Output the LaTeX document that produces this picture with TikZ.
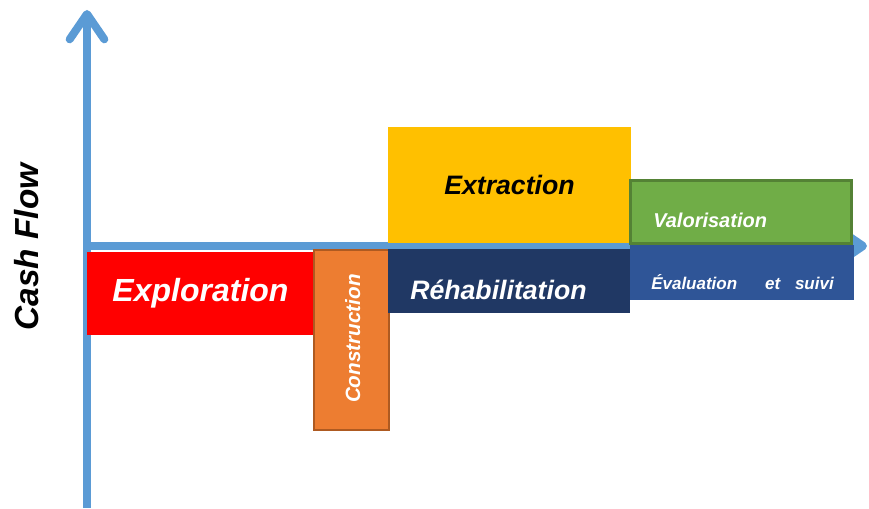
\documentclass[tikz,border=0pt]{standalone}
\usepackage{fontspec}
\setmainfont{Liberation Sans}
\usepackage{tikz}
\usetikzlibrary{arrows.meta}

\definecolor{axisblue}{HTML}{5B9BD5}
\definecolor{exploRed}{HTML}{FF0000}
\definecolor{constrOrange}{HTML}{ED7D31}
\definecolor{constrEdge}{HTML}{AE5A21}
\definecolor{rehabNavy}{HTML}{203864}
\definecolor{extractYellow}{HTML}{FFC000}
\definecolor{valorGreen}{HTML}{70AD47}
\definecolor{valorEdge}{HTML}{548235}
\definecolor{evalBlue}{HTML}{2F5597}

\begin{document}
\begin{tikzpicture}[x=0.75pt,y=0.75pt]
    \tikzstyle{box} = [rectangle, inner sep=0pt, outer sep=0pt, anchor=north west, text centered]
\tikzstyle{lbl} = [inner sep=0pt, anchor=west, text=white, font=\bfseries\itshape]
\tikzstyle{axis} = [line width=6pt, draw=axisblue, -{Straight Barb[length=19pt,width=26pt,round]}]
    \useasboundingbox (0,0) rectangle (869,509);

\coordinate (ybot) at (87,1);
\coordinate (ytop) at (87,499);
\coordinate (origin) at (87,263);
\coordinate (xend) at (867,263);

\draw[axis] (ybot) -- (ytop);
\draw[axis] (origin) -- (xend);

\node (explo) [box, fill=exploRed, minimum width=170.25pt, minimum height=62.25pt, text=white, font=\fontsize{24}{28}\selectfont\bfseries\itshape] at (87,257) {Exploration};
\node (constr) [box, fill=constrOrange, draw=constrEdge, line width=1.5pt, minimum width=56.25pt, minimum height=135pt] at (314,259) {};
\node (rehab) [box, fill=rehabNavy, minimum width=181.5pt, minimum height=48pt] at (388,260) {};
\node (extract) [box, fill=extractYellow, minimum width=182.25pt, minimum height=87pt, text=black, font=\fontsize{20}{24}\selectfont\bfseries\itshape] at (388,382) {Extraction};
\node (valor) [box, fill=valorGreen, draw=valorEdge, line width=2.25pt, minimum width=165.75pt, minimum height=47.25pt] at (630,328) {};
\node (eval) [box, fill=evalBlue, minimum width=168pt, minimum height=41.25pt] at (630,264) {};

\node (constrlbl) [lbl, anchor=center, rotate=90, font=\fontsize{15.5}{18}\selectfont\bfseries\itshape] at ([xshift=1pt, yshift=1pt]constr.center) {Construction};
\node (rehablbl) [lbl, font=\fontsize{20}{24}\selectfont\bfseries\itshape] at ([xshift=16.5pt, yshift=-6.75pt]rehab.west) {Réhabilitation};
\node (valorlbl) [lbl, font=\fontsize{15}{18}\selectfont\bfseries\itshape] at ([xshift=17.25pt, yshift=-5.6pt]valor.west) {Valorisation};
\node (evallbl) [lbl, font=\fontsize{12.75}{15}\selectfont\bfseries\itshape] at ([xshift=15.75pt, yshift=-7.1pt]eval.west) {Évaluation\hspace{21pt}et\hspace{11pt}suivi};

\node (cashflow) [rotate=90, font=\fontsize{25}{30}\selectfont\bfseries\itshape] at (27,262) {Cash Flow};
  \end{tikzpicture}
\end{document}
